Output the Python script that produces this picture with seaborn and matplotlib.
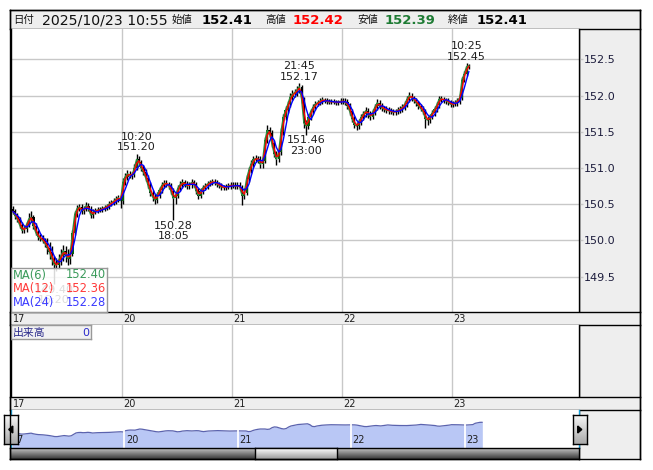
import numpy as np
import pandas as pd
import seaborn as sns
import matplotlib.pyplot as plt
from matplotlib.patches import Polygon
from matplotlib.ticker import FormatStrFormatter
from matplotlib.colors import LinearSegmentedColormap

# --- data: 30-minute bars, trading days start 07:00 JST ---
day_labels = ['17', '20', '21', '22', '23']
day_starts = [0, 48, 96, 144, 192]

first_open = 150.44
close = [
    150.40, 150.34, 150.29, 150.21, 150.14, 150.16, 150.22, 150.30, 150.32, 150.20,
    150.11, 150.05, 150.03, 150.00, 149.96, 149.90, 149.84, 149.75, 149.67, 149.66,
    149.73, 149.79, 149.86, 149.80, 149.75, 149.82, 150.10, 150.36, 150.44, 150.46,
    150.41, 150.43, 150.48, 150.44, 150.35, 150.39, 150.41, 150.42, 150.42, 150.44,
    150.45, 150.47, 150.50, 150.52, 150.54, 150.57, 150.59, 150.55,
    150.80, 150.88, 150.92, 150.90, 150.90, 151.00, 151.12, 151.08, 151.00, 150.94,
    150.86, 150.76, 150.66, 150.60, 150.56, 150.63, 150.70, 150.76, 150.79, 150.78,
    150.76, 150.68, 150.58, 150.62, 150.72, 150.77, 150.80, 150.78, 150.75, 150.77,
    150.80, 150.78, 150.68, 150.62, 150.68, 150.73, 150.75, 150.78, 150.80, 150.81,
    150.80, 150.78, 150.76, 150.74, 150.73, 150.74, 150.75, 150.76,
    150.76, 150.75, 150.76, 150.74, 150.62, 150.66, 150.85, 150.97, 151.06, 151.12,
    151.13, 151.12, 151.05, 151.10, 151.38, 151.52, 151.48, 151.34, 151.20, 151.12,
    151.22, 151.50, 151.70, 151.80, 151.88, 151.98, 152.02, 152.04, 152.08, 152.12,
    151.95, 151.62, 151.58, 151.70, 151.78, 151.84, 151.88, 151.90, 151.92, 151.94,
    151.93, 151.92, 151.91, 151.92, 151.91, 151.90, 151.91, 151.92,
    151.92, 151.91, 151.86, 151.78, 151.68, 151.60, 151.58, 151.64, 151.70, 151.75,
    151.79, 151.74, 151.71, 151.77, 151.84, 151.90, 151.86, 151.83, 151.81, 151.80,
    151.79, 151.78, 151.77, 151.78, 151.80, 151.81, 151.84, 151.88, 151.95, 152.00,
    151.97, 151.94, 151.90, 151.86, 151.82, 151.78, 151.68, 151.66, 151.71, 151.76,
    151.81, 151.87, 151.95, 151.95, 151.94, 151.93, 151.91, 151.88,
    151.88, 151.90, 151.93, 151.97, 152.22, 152.30, 152.40, 152.41,
]
high = [
    150.48, 150.44, 150.38, 150.33, 150.25, 150.20, 150.26, 150.38, 150.40, 150.35,
    150.24, 150.15, 150.09, 150.07, 150.04, 150.04, 149.98, 149.92, 149.78, 149.76,
    149.82, 149.88, 149.94, 149.93, 149.88, 149.90, 150.14, 150.40, 150.49, 150.51,
    150.50, 150.47, 150.53, 150.52, 150.47, 150.43, 150.45, 150.46, 150.46, 150.48,
    150.49, 150.51, 150.54, 150.56, 150.58, 150.61, 150.63, 150.63,
    150.86, 150.93, 150.97, 150.96, 150.95, 151.05, 151.20, 151.16, 151.11, 151.04,
    150.98, 150.90, 150.80, 150.70, 150.64, 150.67, 150.74, 150.80, 150.84, 150.83,
    150.81, 150.79, 150.72, 150.67, 150.76, 150.82, 150.85, 150.84, 150.82, 150.81,
    150.85, 150.84, 150.81, 150.72, 150.72, 150.77, 150.79, 150.82, 150.84, 150.85,
    150.85, 150.83, 150.81, 150.79, 150.77, 150.78, 150.79, 150.80,
    150.81, 150.80, 150.80, 150.80, 150.77, 150.72, 150.90, 151.02, 151.11, 151.17,
    151.18, 151.17, 151.16, 151.15, 151.43, 151.59, 151.57, 151.52, 151.38, 151.24,
    151.27, 151.55, 151.75, 151.85, 151.93, 152.03, 152.07, 152.09, 152.13, 152.17,
    152.15, 151.98, 151.66, 151.74, 151.82, 151.88, 151.92, 151.94, 151.96, 151.98,
    151.97, 151.96, 151.95, 151.95, 151.95, 151.94, 151.94, 151.96,
    151.96, 151.96, 151.95, 151.90, 151.82, 151.72, 151.64, 151.68, 151.74, 151.79,
    151.84, 151.83, 151.78, 151.81, 151.89, 151.95, 151.94, 151.90, 151.86, 151.85,
    151.84, 151.83, 151.82, 151.82, 151.84, 151.85, 151.88, 151.92, 152.00, 152.05,
    152.04, 152.00, 151.97, 151.93, 151.89, 151.85, 151.81, 151.72, 151.75, 151.80,
    151.85, 151.91, 152.00, 152.00, 151.98, 151.97, 151.96, 151.94,
    151.93, 151.94, 151.97, 152.02, 152.26, 152.34, 152.45, 152.43,
]
low = [
    150.36, 150.30, 150.25, 150.17, 150.10, 150.10, 150.12, 150.19, 150.26, 150.16,
    150.07, 150.01, 149.99, 149.96, 149.91, 149.82, 149.74, 149.66, 149.40, 149.58,
    149.60, 149.66, 149.72, 149.70, 149.66, 149.68, 149.79, 150.07, 150.32, 150.40,
    150.37, 150.37, 150.40, 150.40, 150.31, 150.31, 150.36, 150.38, 150.39, 150.39,
    150.41, 150.42, 150.44, 150.47, 150.49, 150.50, 150.53, 150.45,
    150.50, 150.76, 150.84, 150.86, 150.85, 150.87, 150.97, 151.03, 150.96, 150.90,
    150.82, 150.72, 150.62, 150.55, 150.51, 150.52, 150.59, 150.66, 150.72, 150.74,
    150.71, 150.64, 150.28, 150.50, 150.58, 150.68, 150.73, 150.74, 150.71, 150.71,
    150.73, 150.74, 150.64, 150.57, 150.58, 150.64, 150.70, 150.71, 150.75, 150.77,
    150.76, 150.74, 150.72, 150.70, 150.69, 150.70, 150.71, 150.71,
    150.72, 150.71, 150.71, 150.70, 150.49, 150.57, 150.63, 150.81, 150.93, 151.02,
    151.08, 151.07, 151.00, 151.00, 151.07, 151.34, 151.43, 151.29, 151.15, 151.04,
    151.08, 151.18, 151.46, 151.66, 151.76, 151.84, 151.94, 151.98, 152.00, 152.03,
    151.90, 151.55, 151.46, 151.54, 151.66, 151.74, 151.80, 151.85, 151.87, 151.89,
    151.90, 151.89, 151.88, 151.88, 151.88, 151.87, 151.87, 151.88,
    151.88, 151.87, 151.82, 151.73, 151.63, 151.55, 151.52, 151.54, 151.60, 151.66,
    151.71, 151.69, 151.66, 151.67, 151.73, 151.80, 151.81, 151.79, 151.77, 151.76,
    151.75, 151.74, 151.73, 151.73, 151.74, 151.76, 151.77, 151.80, 151.84, 151.91,
    151.93, 151.90, 151.86, 151.82, 151.78, 151.74, 151.55, 151.60, 151.62, 151.67,
    151.72, 151.77, 151.83, 151.91, 151.90, 151.89, 151.87, 151.84,
    151.84, 151.85, 151.86, 151.89, 151.94, 152.18, 152.27, 152.36,
]

# moving averages (window in 30-min bars), legend read-outs
ma_names = ['MA(6)', 'MA(12)', 'MA(24)']
ma_windows = [1, 2, 4]
ma_line_colors = ['#2E8B3E', '#FF0000', '#0000FF']
ma_text_colors = ['#3A9A5A', '#FF3A3A', '#3A3AFF']
ma_last = ['152.40', '152.36', '152.28']

# extreme-point marks: (bar, time, kind)
marks = [(18, '16:20', 'low'), (54, '10:20', 'high'), (70, '18:05', 'low'),
         (125, '21:45', 'high'), (128, '23:00', 'low'), (198, '10:25', 'high')]

header_date = '2025/10/23 10:55'
header_labels = ['始値', '高値', '安値', '終値']
header_values = ['152.41', '152.42', '152.39', '152.41']
header_colors = ['#000000', '#FF0000', '#1E7B34', '#000000']

price_ticks = [149.5, 150.0, 150.5, 151.0, 151.5, 152.0, 152.5]

# --- figure layout in pixels ---
sns.set_style('white')
plt.rcParams['font.family'] = ['DejaVu Sans', 'Noto Sans CJK JP']

W, H = 653, 470
fig = plt.figure(figsize=(W / 100, H / 100), dpi=100)
fig.patch.set_facecolor('white')
GRAY = '#EEEEEE'
GRID = '#C8C8C8'


def panel(x0, y0, x1, y1, color='white', edges='', z=0, edge_color='black'):
    a = fig.add_axes([x0 / W, 1 - y1 / H, (x1 - x0) / W, (y1 - y0) / H], zorder=z)
    a.set_facecolor(color)
    a.set_xticks([])
    a.set_yticks([])
    for side, sp in a.spines.items():
        sp.set_visible(side[0] in edges)
        sp.set_color(edge_color)
        sp.set_linewidth(1.0)
    return a


def ftext(x, y, s, **kw):
    fig.text(x / W, 1 - y / H, s, va='center', **kw)


def gradient(a, c_top, c_bot):
    cmap = LinearSegmentedColormap.from_list('g', [c_top, c_bot])
    a.imshow(np.linspace(0, 1, 30).reshape(-1, 1), aspect='auto', cmap=cmap,
             extent=(0, 1, 0, 1))
    a.set_xlim(0, 1)
    a.set_ylim(0, 1)


X0, DX = 11.7, 110.0 / 48


def t_at(px):
    return (px - X0) / DX - 0.5


df = pd.DataFrame({'t': np.arange(len(close)), 'close': close, 'high': high, 'low': low})
df['open'] = [first_open] + close[:-1]
for name, win in zip(ma_names, ma_windows):
    df[name] = df['close'].rolling(win, min_periods=1).mean()
boundaries = [s - 0.5 for s in day_starts[1:]]

# header
hdr = panel(10, 10, 640, 29, GRAY, 'lrtb')
ftext(13, 20, '日付', fontsize=7.5, color='#111111')
ftext(42, 20, header_date, fontsize=10.2, color='#111111')
for lab, val, col, lx, vx in zip(header_labels, header_values, header_colors,
                                 [172, 265, 357, 448], [202, 293, 385, 477]):
    ftext(lx, 20, lab, fontsize=7.5, color='#111111')
    ftext(vx, 20, val, fontsize=9.5, fontweight='bold', color=col)

# right price panel
panel(579, 29, 640, 312, GRAY, 'lr', z=-1)

# main price chart
ax = panel(11, 29, 579, 312, 'white', 'lr')
for b in boundaries:
    ax.axvline(b, color=GRID, lw=1, zorder=0.5)
ax.set_yticks(price_ticks)
ax.yaxis.tick_right()
ax.yaxis.set_major_formatter(FormatStrFormatter('%.1f'))
ax.tick_params(axis='y', length=3, color=GRID, width=1, pad=0.5,
               labelsize=8, labelcolor='#1C1C3C')
ax.grid(axis='y', color=GRID, lw=1)
ax.set_axisbelow(True)

up = df['close'] >= df['open']
body = (df['close'] - df['open']).abs().clip(lower=0.01)
bottom = df[['open', 'close']].min(axis=1)
ax.vlines(df['t'], df['low'], df['high'], color='black', lw=1.0, zorder=2)
ax.bar(df['t'][up], body[up], bottom=bottom[up], width=0.95, color='#0B5E0B', lw=0, zorder=3)
ax.bar(df['t'][~up], body[~up], bottom=bottom[~up], width=0.95, color='black', lw=0, zorder=3)
for name, col in zip(ma_names, ma_line_colors):
    sns.lineplot(data=df, x='t', y=name, color=col, lw=1.0, ax=ax, zorder=4)
ax.set_xlabel('')
ax.set_ylabel('')

for bar, tm, kind in marks:
    if kind == 'high':
        ax.annotate(f'{tm}\n{high[bar]:.2f}', xy=(bar, high[bar]), xytext=(0, 1),
                    textcoords='offset points', ha='center', va='bottom',
                    fontsize=8, linespacing=1.05, color='#202020', zorder=5)
    else:
        ax.annotate(f'{low[bar]:.2f}\n{tm}', xy=(bar, low[bar]), xytext=(0, -0.5),
                    textcoords='offset points', ha='center', va='top',
                    fontsize=8, linespacing=1.05, color='#202020', zorder=5)
ax.set_xlim(t_at(11), t_at(579))
ax.set_ylim(149.013, 152.918)

# moving-average read-out box
leg = panel(11, 268, 107, 312, 'white', 'lrtb', z=3, edge_color='#999999')
leg.patch.set_alpha(0.85)
for i, (name, val, col) in enumerate(zip(ma_names, ma_last, ma_text_colors)):
    fy = 1 - (275 + 13.8 * i - 268) / 44
    leg.text(1.5 / 96, fy, name, transform=leg.transAxes, fontsize=8.3, color=col, va='center')
    leg.text(95 / 96, fy, val, transform=leg.transAxes, fontsize=8.3, color=col,
             va='center', ha='right')


def date_strip(y0, y1):
    s = panel(10, y0, 640, y1, GRAY, 'lrtb')
    s.set_xlim(t_at(10), t_at(640))
    s.set_ylim(0, 1)
    for lbl, st in zip(day_labels, day_starts):
        s.annotate(lbl, xy=(st - 0.5, 0.45), xytext=(1, 0), textcoords='offset points',
                   ha='left', va='center', fontsize=7, color='#202020')
    return s


date_strip(312, 325)

# volume panel (empty)
panel(579, 325, 640, 397, GRAY, 'lr', z=-1)
vol = panel(11, 325, 579, 397, 'white', 'lr')
for b in boundaries:
    vol.axvline(b, color=GRID, lw=1)
vol.set_xlim(t_at(11), t_at(579))
vbox = panel(11, 325, 91, 339, '#F2F2F2', 'lrtb', z=3, edge_color='#999999')
vbox.text(1.5 / 80, 0.45, '出来高', transform=vbox.transAxes, fontsize=7.8,
          color='#2B2B8C', va='center')
vbox.text(78 / 80, 0.45, '0', transform=vbox.transAxes, fontsize=8,
          color='#2B2BCC', va='center', ha='right')

date_strip(397, 410)

# navigator
panel(579, 410, 640, 459, GRAY, 'lr', z=-1)
NX0, NDX = 11.0, 113.4 / 48
nav = panel(11, 410, 579, 448, 'white', 'lr', edge_color='#19A0D8')
nav_bottom, nav_top = 147.47, 154.77
nav.fill_between(df['t'], df['close'], nav_bottom, color='#B9C7F5', lw=0)
sns.lineplot(data=df, x='t', y='close', color='#5B63AE', lw=0.9, ax=nav)
nav.set_xlabel('')
nav.set_ylabel('')
for b in boundaries:
    nav.axvline(b, color='white', lw=1.3)
for lbl, st in zip(day_labels, day_starts):
    nav.annotate(lbl, xy=(st - 0.5, nav_bottom), xytext=(1, 2.5), textcoords='offset points',
                 ha='left', va='bottom', fontsize=7, color='#202020')
nav.set_xlim((11 - NX0) / NDX - 0.5, (579 - NX0) / NDX - 0.5)
nav.set_ylim(nav_bottom, nav_top)

# scrollbar
sb = panel(10, 448, 579, 459, 'white', 'lrtb')
gradient(sb, '#C4C4C4', '#3A3A3A')
thumb = panel(255, 448, 337, 459, 'white', 'lrtb', z=2)
gradient(thumb, '#FFFFFF', '#9A9A9A')

for x0, x1, pts in [(4, 17.5, [[0.65, 0.38], [0.65, 0.62], [0.35, 0.5]]),
                    (573, 586.5, [[0.35, 0.38], [0.35, 0.62], [0.65, 0.5]])]:
    btn = panel(x0, 415, x1, 444, 'white', 'lrtb', z=4)
    gradient(btn, '#F6F6F6', '#AAAAAA')
    btn.add_patch(Polygon(pts, closed=True, color='black', transform=btn.transAxes))

# outer frame
frame = panel(10, 10, 640, 459, 'none', 'lrtb', z=10)

fig.savefig('out.png', dpi=100)
